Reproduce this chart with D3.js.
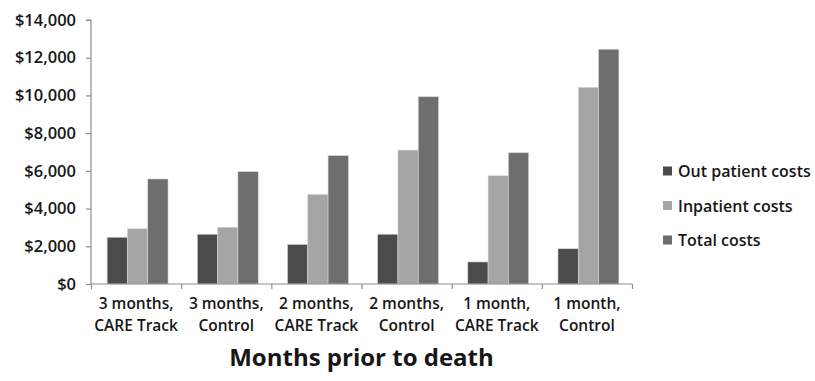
<!DOCTYPE html>
<html>
<head>
<meta charset="utf-8">
<script src="https://cdn.jsdelivr.net/npm/d3@7"></script>
<style>
  html, body { margin: 0; padding: 0; background: #fff; }
  svg text { font-family: "Open Sans", Lato, sans-serif; fill: #161616; }
</style>
</head>
<body>
<svg id="chart" width="815" height="381"></svg>
<script>
// Categories: months prior to death, by group
const categories = [
  ["3 months,", "CARE Track"],
  ["3 months,", "Control"],
  ["2 months,", "CARE Track"],
  ["2 months,", "Control"],
  ["1 month,", "CARE Track"],
  ["1 month,", "Control"]
];
const seriesNames = ["Out patient costs", "Inpatient costs", "Total costs"];
const outpatientCosts = [2480, 2640, 2100, 2640, 1170, 1870];
const inpatientCosts = [2930, 3010, 4750, 7100, 5740, 10430];
const totalCosts = [5570, 5960, 6810, 9930, 6960, 12450];
const yTicks = [0, 2000, 4000, 6000, 8000, 10000, 12000, 14000];
const xTitle = "Months prior to death";

const colors = ["#4b4b4b", "#a5a5a5", "#6e6e6e"];
const seriesValues = [outpatientCosts, inpatientCosts, totalCosts];

const svg = d3.select("#chart");
const plotLeft = 91, plotRight = 632, plotTop = 20, plotBottom = 284;

const x0 = d3.scaleBand().domain(d3.range(categories.length)).range([plotLeft, plotRight]).paddingInner(0).paddingOuter(0);
const x1 = d3.scaleBand().domain(d3.range(seriesNames.length)).range([0, x0.bandwidth()]).paddingOuter(0.72).paddingInner(0);
const y = d3.scaleLinear().domain([0, 14000]).range([plotBottom, plotTop]);

// bars
const groups = svg.append("g").selectAll("g")
  .data(categories.map((c, i) => i))
  .join("g")
  .attr("transform", i => `translate(${x0(i) + 1.5},0)`);

groups.selectAll("rect")
  .data(i => seriesValues.map((vals, s) => ({ s, v: vals[i] })))
  .join("rect")
  .attr("x", d => x1(d.s))
  .attr("width", x1.bandwidth())
  .attr("y", d => y(d.v))
  .attr("height", d => plotBottom - y(d.v))
  .attr("fill", d => colors[d.s])
  .attr("stroke", "#d8d8d8")
  .attr("stroke-width", 0.6);

// y axis
const yAxis = d3.axisLeft(y)
  .tickValues(yTicks)
  .tickSize(5)
  .tickPadding(10)
  .tickFormat(d => "$" + d3.format(",")(d));
const gy = svg.append("g").attr("transform", `translate(${plotLeft},0)`).call(yAxis);
gy.select(".domain").attr("stroke", "#8c8c8c").attr("stroke-width", 1.2).attr("d", `M-5,${plotTop}H0V${plotBottom}`);
gy.selectAll(".tick line").attr("stroke", "#8c8c8c").attr("stroke-width", 1.2);
gy.selectAll(".tick text").style("font-size", "16.5px").style("font-weight", "600").attr("fill", "#161616");

// x axis
const xAxis = d3.axisBottom(d3.scaleLinear().domain([0, categories.length]).range([plotLeft, plotRight]))
  .tickValues(d3.range(categories.length + 1))
  .tickSize(5)
  .tickFormat("");
const gx = svg.append("g").attr("transform", `translate(0,${plotBottom})`).call(xAxis);
gx.select(".domain").attr("stroke", "#8c8c8c").attr("stroke-width", 1.2).attr("d", `M${plotLeft},0H${plotRight}`);
gx.selectAll(".tick line").attr("stroke", "#8c8c8c").attr("stroke-width", 1.2);

// category labels
const labels = svg.append("g").selectAll("text")
  .data(categories)
  .join("text")
  .attr("text-anchor", "middle")
  .style("font-size", "15.5px")
  .style("font-weight", "600")
  .attr("transform", (c, i) => `translate(${x0(i) + x0.bandwidth() / 2},0)`);
labels.selectAll("tspan")
  .data(c => c)
  .join("tspan")
  .attr("x", 0)
  .attr("y", (d, k) => 309 + k * 22)
  .text(d => d);

// axis title
svg.append("text")
  .attr("x", (plotLeft + plotRight) / 2)
  .attr("y", 366)
  .attr("text-anchor", "middle")
  .style("font-size", "24px")
  .style("font-weight", "bold")
  .text(xTitle);

// legend
const legend = svg.append("g").selectAll("g")
  .data(seriesNames)
  .join("g")
  .attr("transform", (d, i) => `translate(663,${171 + i * 34.5})`);
legend.append("rect")
  .attr("x", 0).attr("y", -4.5).attr("width", 9).attr("height", 9)
  .attr("fill", (d, i) => colors[i]);
legend.append("text")
  .attr("x", 15).attr("y", 6)
  .style("font-size", "16px")
  .style("font-weight", "600")
  .text(d => d);
</script>
</body>
</html>
